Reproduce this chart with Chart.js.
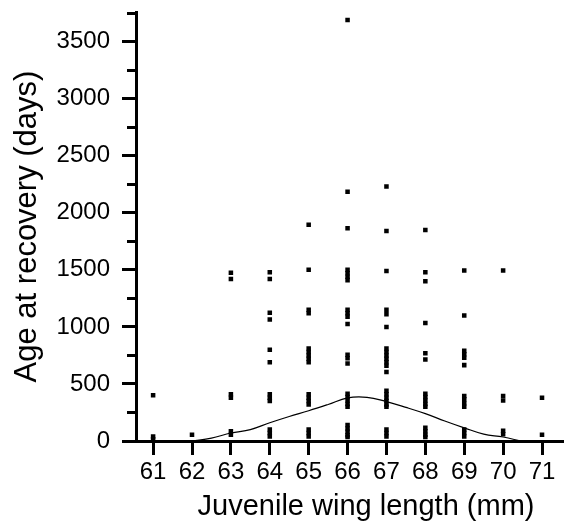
<!DOCTYPE html>
<html>
<head>
<meta charset="utf-8">
<script src="https://cdn.jsdelivr.net/npm/chart.js@4.4.0/dist/chart.umd.min.js"></script>
<style>
  html, body { margin: 0; padding: 0; background: #fff; }
  #wrap { width: 567px; height: 525px; }
</style>
</head>
<body>
<div id="wrap"><canvas id="wingChart"></canvas></div>
<script>
// wing lengths (mm) on the x axis
const wingTicks = [61, 62, 63, 64, 65, 66, 67, 68, 69, 70, 71];

// age at recovery (days), one list per wing length
const age61 = [400, 15, 40];
const age62 = [55];
const age63 = [1475, 1420, 410, 380, 85, 55];
const age64 = [1480, 1420, 1125, 1065, 800, 690, 410, 380, 350, 100, 70, 40];
const age65 = [1895, 1500, 1150, 1120, 810, 780, 750, 720, 690, 410, 380, 350, 320, 100, 70, 40];
const age66 = [3690, 2185, 1865, 1500, 1470, 1440, 1410, 1150, 1120, 1090, 1025, 755, 725, 680,
               415, 385, 355, 325, 300, 140, 110, 80, 50, 35];
const age67 = [2230, 1840, 1490, 1150, 1110, 1000, 810, 780, 750, 720, 690, 660, 605,
               440, 410, 380, 350, 320, 300, 100, 70, 40];
const age68 = [1850, 1480, 1400, 1035, 770, 715, 415, 385, 355, 325, 300, 115, 85, 55, 35];
const age69 = [1495, 1100, 790, 760, 730, 665, 395, 365, 330, 300, 100, 70, 40];
const age70 = [1495, 395, 355, 90, 60];
const age71 = [380, 55];
const ageLists = [age61, age62, age63, age64, age65, age66, age67, age68, age69, age70, age71];

// fitted curve
const curveX = [62, 62.5, 63, 63.5, 64, 64.5, 65, 65.5, 66, 66.5, 67, 67.5, 68, 68.5, 69, 69.5, 70, 70.45];
const curveY = [0, 25, 70, 100, 160, 215, 265, 320, 378, 383, 345, 295, 240, 175, 115, 60, 35, 0];

const yMajor = [0, 500, 1000, 1500, 2000, 2500, 3000, 3500];
const yMinor = [250, 750, 1250, 1750, 2250, 2750, 3250, 3750];

const points = [];
wingTicks.forEach((w, i) => {
    ageLists[i].forEach(a => points.push({ x: w, y: a }));
});
const curve = curveX.map((x, i) => ({ x: x, y: curveY[i] }));

// shorter minor ticks on the y axis
const minorTicks = {
    id: 'minorTicks',
    afterDraw(chart) {
        const ctx = chart.ctx;
        const y = chart.scales.y;
        ctx.save();
        ctx.strokeStyle = '#000';
        ctx.lineWidth = 3;
        yMinor.forEach(v => {
            const py = Math.round(y.getPixelForValue(v)) + 0.5;
            ctx.beginPath();
            ctx.moveTo(y.right - 9, py);
            ctx.lineTo(y.right, py);
            ctx.stroke();
        });
        ctx.restore();
    }
};

const font = 'Liberation Sans, Arial, Helvetica, sans-serif';
const ctx = document.getElementById('wingChart').getContext('2d');
new Chart(ctx, {
    type: 'scatter',
    data: {
        datasets: [{
            data: points,
            backgroundColor: '#000',
            borderWidth: 0,
            pointStyle: 'rect',
            pointRadius: 3.2,
            pointHoverRadius: 3.2
        }, {
            type: 'line',
            data: curve,
            borderColor: '#000',
            borderWidth: 1.2,
            pointRadius: 0,
            tension: 0.4,
            fill: false
        }]
    },
    options: {
        responsive: true,
        maintainAspectRatio: false,
        animation: false,
        events: [],
        layout: { padding: { top: 12, right: 2, left: 0, bottom: 0 } },
        plugins: { legend: { display: false }, tooltip: { enabled: false } },
        scales: {
            x: {
                type: 'linear',
                min: 60.56,
                max: 71.56,
                afterBuildTicks: s => { s.ticks = wingTicks.map(v => ({ value: v })); },
                afterFit: s => { s.height = 84; s.paddingLeft = 0; s.paddingRight = 0; },
                border: { color: '#000', width: 3 },
                grid: { drawOnChartArea: false, drawTicks: true, tickLength: 14, tickWidth: 3, tickColor: '#000' },
                ticks: { color: '#000', padding: 3, font: { family: font, size: 24 },
                         callback: v => String(v) },
                // leading spaces nudge the centred title right, as in the original
                title: { display: true, text: '    Juvenile wing length (mm)', color: '#000',
                         font: { family: font, size: 29 }, padding: { top: 0, bottom: 1 } }
            },
            y: {
                min: 0,
                max: 3760,
                afterBuildTicks: s => { s.ticks = yMajor.map(v => ({ value: v })); },
                afterFit: s => { s.width = 136; s.paddingTop = 0; s.paddingBottom = 0; },
                border: { color: '#000', width: 3 },
                grid: { drawOnChartArea: false, drawTicks: true, tickLength: 14, tickWidth: 3, tickColor: '#000' },
                ticks: { color: '#000', padding: 12, font: { family: font, size: 24 },
                         callback: v => String(v) },
                title: { display: true, text: 'Age at recovery (days)', color: '#000',
                         font: { family: font, size: 31 }, padding: { top: 9, bottom: 0 } }
            }
        }
    },
    plugins: [minorTicks]
});
</script>
</body>
</html>
